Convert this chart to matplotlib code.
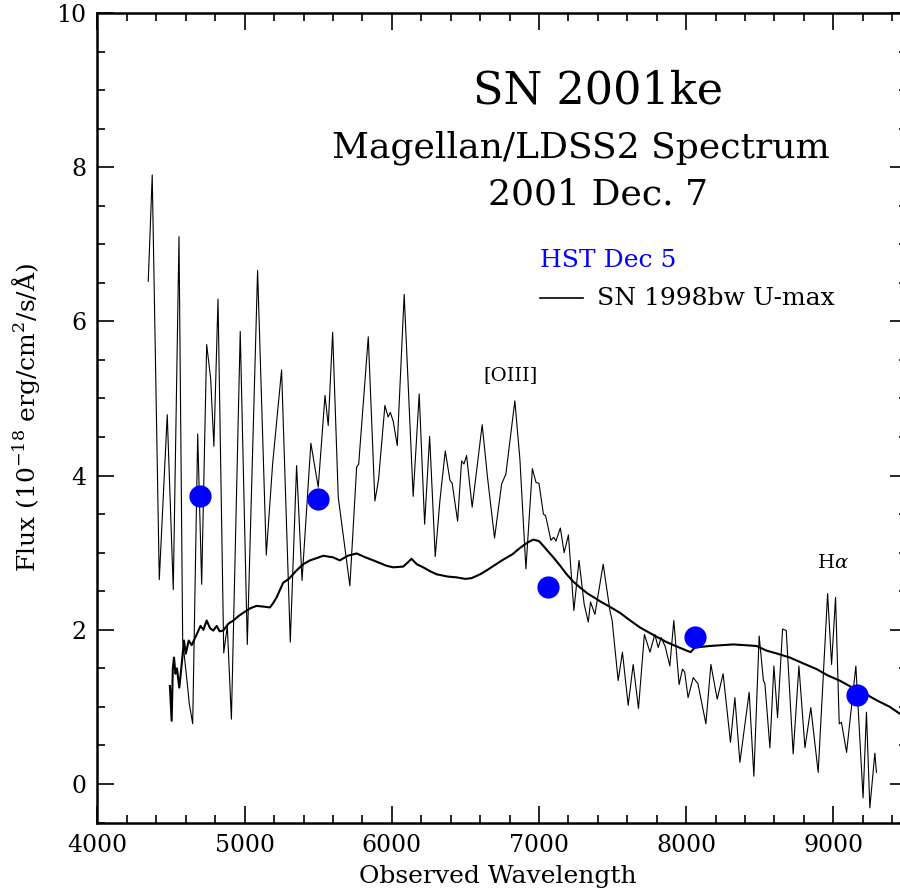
import numpy as np
import matplotlib
matplotlib.use("Agg")
import matplotlib.pyplot as plt
from matplotlib.ticker import MultipleLocator
from matplotlib.lines import Line2D

### SN 2001ke spectrum (Magellan/LDSS2, 2001 Dec. 7)
wl_2001ke = [4345, 4372, 4420, 4474, 4515, 4554, 4579, 4606, 4624, 4647,
             4681, 4708, 4742, 4769, 4791, 4819, 4858, 4882, 4910, 4970,
             5018, 5088, 5147, 5190, 5251, 5310, 5353, 5390, 5450, 5500,
             5546, 5568, 5598, 5636, 5715, 5761, 5775, 5840, 5885, 5910,
             5953, 5975, 5990, 6010, 6037, 6084, 6145, 6186, 6223, 6257,
             6295, 6327, 6363, 6395, 6410, 6447, 6474, 6490, 6508, 6546,
             6614, 6650, 6698, 6746, 6775, 6836, 6870, 6911, 6955, 6980,
             7000, 7030, 7045, 7081, 7100, 7115, 7145, 7171, 7200, 7237,
             7272, 7307, 7335, 7350, 7380, 7436, 7482, 7497, 7538, 7567,
             7606, 7640, 7676, 7716, 7754, 7787, 7810, 7830, 7858, 7889,
             7916, 7952, 7975, 7990, 8013, 8048, 8080, 8134, 8168, 8211,
             8251, 8301, 8331, 8365, 8428, 8460, 8496, 8525, 8535, 8569,
             8596, 8621, 8655, 8680, 8727, 8766, 8807, 8847, 8897, 8961,
             8988, 9015, 9040, 9055, 9090, 9153, 9202, 9225, 9248, 9282,
             9293]
fl_2001ke = [6.52, 7.90, 2.65, 4.79, 2.52, 7.10, 1.86, 1.38, 1.04, 0.78,
             4.54, 2.59, 5.70, 5.26, 4.38, 6.29, 1.70, 2.05, 0.84, 5.87,
             1.81, 6.66, 2.97, 4.15, 5.37, 1.84, 4.13, 2.64, 4.42, 3.85,
             5.04, 4.65, 5.86, 3.72, 2.57, 4.11, 4.15, 5.80, 3.67, 3.95,
             4.91, 4.76, 4.82, 4.70, 4.39, 6.35, 3.73, 5.06, 3.37, 4.51,
             2.95, 3.68, 4.32, 3.94, 3.90, 3.41, 4.19, 4.15, 4.26, 3.59,
             4.66, 3.98, 3.19, 3.89, 4.02, 4.97, 4.22, 2.79, 4.09, 3.91,
             3.90, 3.50, 3.48, 3.16, 3.20, 3.15, 3.32, 3.00, 3.23, 2.25,
             2.90, 2.33, 2.10, 2.36, 2.20, 2.85, 2.25, 2.12, 1.34, 1.71,
             1.02, 1.55, 0.98, 1.94, 1.71, 1.94, 1.77, 1.90, 1.78, 1.53,
             2.12, 1.29, 1.49, 1.45, 1.12, 1.38, 1.30, 0.78, 1.55, 1.10,
             1.43, 0.54, 1.12, 0.28, 1.19, 0.10, 1.92, 1.34, 1.30, 0.47,
             1.53, 0.86, 2.01, 1.99, 0.39, 1.53, 0.47, 0.99, 0.15, 2.47,
             1.55, 2.42, 0.78, 0.80, 0.41, 1.53, -0.18, 0.93, -0.31, 0.40,
             0.15]

### SN 1998bw template at U-max
wl_1998bw = [4492, 4504, 4512, 4520, 4530, 4540, 4556, 4570, 4588, 4600,
             4620, 4640, 4674, 4700, 4720, 4742, 4765, 4787, 4810, 4830,
             4855, 4890, 4923, 4960, 4990, 5040, 5081, 5130, 5172, 5195,
             5217, 5262, 5300, 5353, 5398, 5444, 5490, 5534, 5600, 5647,
             5700, 5761, 5820, 5874, 5965, 6010, 6078, 6134, 6170, 6213,
             6260, 6304, 6380, 6440, 6500, 6542, 6600, 6644, 6700, 6757,
             6820, 6870, 6920, 6961, 7000, 7029, 7060, 7097, 7140, 7188,
             7230, 7278, 7330, 7391, 7414, 7480, 7550, 7620, 7686, 7780,
             7867, 7940, 8003, 8030, 8059, 8110, 8162, 8240, 8319, 8400,
             8478, 8546, 8620, 8704, 8800, 8886, 8960, 9044, 9130, 9225,
             9300, 9384, 9452, 9500]
fl_1998bw = [1.27, 0.82, 1.50, 1.64, 1.43, 1.50, 1.25, 1.51, 1.86, 1.69,
             1.86, 1.80, 1.94, 2.05, 2.00, 2.12, 2.02, 1.99, 2.05, 1.98,
             1.99, 2.08, 2.12, 2.18, 2.22, 2.28, 2.31, 2.30, 2.29, 2.35,
             2.42, 2.61, 2.66, 2.77, 2.85, 2.90, 2.93, 2.96, 2.94, 2.90,
             2.96, 2.99, 2.94, 2.90, 2.83, 2.81, 2.82, 2.92, 2.85, 2.81,
             2.76, 2.72, 2.69, 2.68, 2.66, 2.67, 2.72, 2.77, 2.84, 2.91,
             2.98, 3.06, 3.13, 3.17, 3.15, 3.09, 3.02, 2.94, 2.84, 2.72,
             2.63, 2.55, 2.47, 2.40, 2.37, 2.30, 2.22, 2.12, 2.03, 1.93,
             1.84, 1.78, 1.73, 1.71, 1.77, 1.78, 1.79, 1.80, 1.81, 1.80,
             1.79, 1.73, 1.69, 1.64, 1.56, 1.49, 1.41, 1.34, 1.25, 1.16,
             1.08, 1.00, 0.91, 0.86]

### HST photometry, Dec 5
wl_hst = [4700, 5500, 7060, 8060, 9160]
fl_hst = [3.73, 3.70, 2.55, 1.90, 1.15]

plt.rcParams['font.family'] = ['DejaVu Serif']
plt.rcParams['mathtext.fontset'] = 'dejavuserif'

fig = plt.figure(figsize=(9, 8.92), dpi=100)
ax = fig.add_axes([0.1083, 0.0779, 0.8994, 0.9075])

ax.plot(wl_2001ke, fl_2001ke, color='black', lw=0.8)
ax.plot(wl_1998bw, fl_1998bw, color='black', lw=1.5)
ax.plot(wl_hst, fl_hst, 'o', color='blue', markersize=16, markeredgewidth=0)

ax.set_xlim(4000, 9500)
ax.set_ylim(-0.5, 10)
ax.xaxis.set_major_locator(MultipleLocator(1000))
ax.xaxis.set_minor_locator(MultipleLocator(200))
ax.yaxis.set_major_locator(MultipleLocator(2))
ax.yaxis.set_minor_locator(MultipleLocator(0.5))
ax.tick_params(which='both', direction='in', top=True, right=True, labelsize=17, width=1.2)
ax.tick_params(which='major', length=12, pad=8)
ax.tick_params(which='minor', length=6)
for s in ax.spines.values():
    s.set_linewidth(1.8)

ax.set_xlabel("Observed Wavelength", fontsize=18)
ax.set_ylabel(r"Flux (10$^{-18}$ erg/cm$^2$/s/Å)", fontsize=18)
ax.xaxis.set_label_coords(0.495, -0.052)
ax.yaxis.set_label_coords(-0.068, 0.50)

### Textes
ax.text(7400, 8.99, "SN 2001ke", fontsize=32, ha='center', va='center')
ax.text(7285, 8.25, "Magellan/LDSS2 Spectrum", fontsize=26, ha='center', va='center')
ax.text(7400, 7.64, "2001 Dec. 7", fontsize=26, ha='center', va='center')
ax.text(7006, 6.79, "HST Dec 5", fontsize=18, color='blue', ha='left', va='center')
ax.add_line(Line2D([7006, 7298], [6.30, 6.30], color='black', lw=1.2))
ax.text(7393, 6.30, "SN 1998bw U-max", fontsize=18, ha='left', va='center')
ax.text(6809, 5.31, "[OIII]", fontsize=14, ha='center', va='center')
ax.text(8996, 2.86, r"H$\alpha$", fontsize=14, ha='center', va='center')

fig.savefig("out.png", dpi=100)
